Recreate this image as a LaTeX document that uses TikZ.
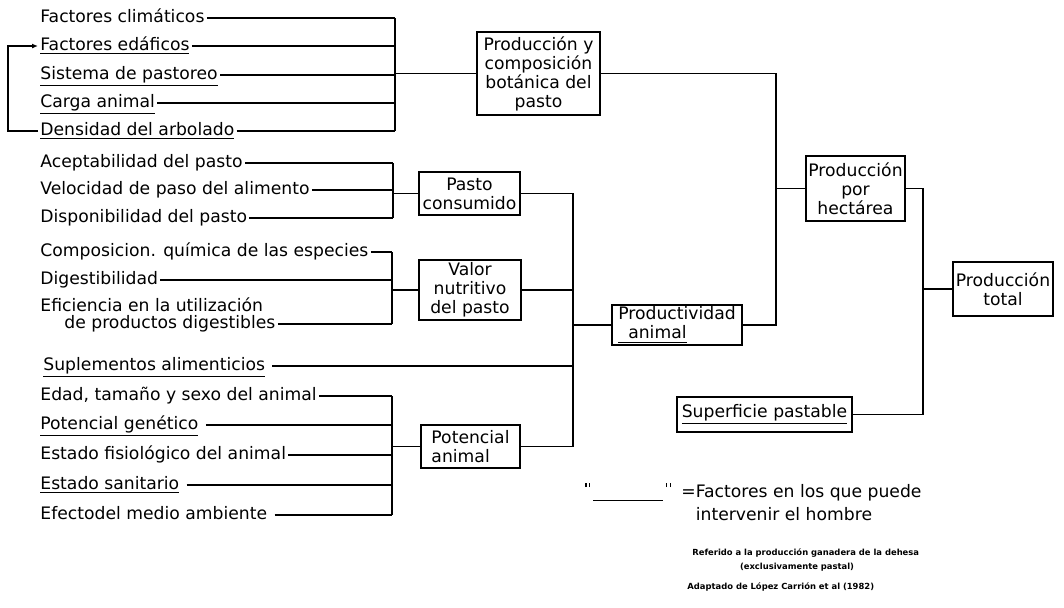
\documentclass[tikz,border=0pt]{standalone}
\usepackage{fontspec}
\setmainfont{DejaVu Sans}
\usetikzlibrary{arrows.meta}
\newcommand{\comillas}{\rule[5pt]{0.6pt}{2.2pt}\hspace{1.2pt}\rule[5pt]{0.6pt}{2.2pt}}
\begin{document}
\begin{tikzpicture}[x=0.5pt,y=-0.5pt,
    every node/.style={font=\fontsize{8.6}{9.5}\selectfont},
    factor/.style={anchor=west,inner sep=1pt,text height=6pt,text depth=2pt},
    caja/.style={rectangle,draw,line width=0.8pt,inner sep=1pt,align=center},
    linea/.style={line width=0.9pt},
    hueco/.style={line width=0.9pt,shorten <=2.5pt},
    nota/.style={font=\fontsize{4.2}{5}\selectfont\bfseries,inner sep=0pt}]
  \useasboundingbox (0,0) rectangle (1064,607);
  \coordinate (brk) at(8,0);
  \coordinate (ba) at(395,0);
  \coordinate (bb) at(393,0);
  \coordinate (bc) at(392,0);
  \coordinate (bm) at(573,0);
  \coordinate (br) at(776,0);
  \coordinate (bt) at(923,0);

  \node[factor] (clim) at(38,18) {Factores climáticos};
  \node[factor] (edaf) at(38,46) {\underline{Factores edáficos}};
  \node[factor] (sist) at(38,75) {\underline{Sistema de pastoreo}};
  \node[factor] (carga) at(38,103) {\underline{Carga animal}};
  \node[factor] (dens) at(38,131) {\underline{Densidad del arbolado}};
  \node[factor] (acep) at(38,163) {Aceptabilidad del pasto};
  \node[factor] (veloc) at(38,190) {Velocidad de paso del alimento};
  \node[factor] (disp) at(38,218) {Disponibilidad del pasto};
  \node[factor] (comp) at(38,252) {Composicion. química de las especies};
  \node[factor] (dig) at(38,280) {Digestibilidad};
  \node[factor] (efic1) at(38,307) {Eficiencia en la utilización};
  \node[factor] (efic2) at(62,324) {de productos digestibles};
  \node[factor] (supl) at(41,366) {\underline{Suplementos alimenticios}};
  \node[factor] (edad) at(38,396) {Edad, tamaño y sexo del animal};
  \node[factor] (pot) at(38,425) {\underline{Potencial genético}};
  \node[factor] (fisio) at(38,455) {Estado fisiológico del animal};
  \node[factor] (sanit) at(38,485) {\underline{Estado sanitario}};
  \node[factor] (efecto) at(38,515) {Efectodel medio ambiente};

  \node[caja,minimum width=61.5pt,minimum height=41.5pt] (prodcomp) at(538.5,73.5) {Producción y\\composición\\botánica del\\pasto};
  \node[caja,minimum width=50.5pt,minimum height=21.5pt] (consumido) at(469.5,193.5) {Pasto\\consumido};
  \node[caja,minimum width=51pt,minimum height=30pt] (valor) at(470,290) {Valor\\nutritivo\\del pasto};
  \node[caja,minimum width=49.5pt,minimum height=21.5pt,align=left] (potencial) at(470.5,446.5) {Potencial\\animal};
  \node[caja,minimum width=65pt,minimum height=20pt,align=left] (productividad) at(677,325) {Productividad\\\underline{\hspace{5pt}animal}};
  \node[caja,minimum width=49.5pt,minimum height=32.5pt] (hectarea) at(855.5,188.5) {Producción\\por\\hectárea};
  \node[caja,minimum width=50pt,minimum height=27pt] (total) at(1003,289) {Producción\\total};
  \node[caja,minimum width=87.5pt,minimum height=17.5pt] (superficie) at(764.5,414.5) {\underline{Superficie pastable}};

  \foreach \n in {clim,edaf,sist,carga,dens}
    \draw[linea] (\n.east) -- (\n.east -| ba);
  \draw[linea] (clim.east -| ba) -- (dens.east -| ba);
  \draw[linea] (ba |- prodcomp.west) -- (prodcomp.west);
  \draw[linea,-{Latex[length=3pt,width=2.5pt]}] (dens.west) -| (brk |- edaf.west) -- (edaf.west);

  \foreach \n in {acep,veloc,disp}
    \draw[linea] (\n.east) -- (\n.east -| bb);
  \draw[linea] (acep.east -| bb) -- (disp.east -| bb);
  \draw[linea] (bb |- consumido.west) -- (consumido.west);

  \foreach \n in {comp,dig,efic2}
    \draw[linea] (\n.east) -- (\n.east -| bc);
  \draw[linea] (comp.east -| bc) -- (efic2.east -| bc);
  \draw[linea] (bc |- valor.west) -- (valor.west);

  \foreach \n in {edad,fisio}
    \draw[linea] (\n.east) -- (\n.east -| bc);
  \foreach \n in {pot,sanit,efecto}
    \draw[hueco] (\n.east) -- (\n.east -| bc);
  \draw[linea] (edad.east -| bc) -- (efecto.east -| bc);
  \draw[linea] (bc |- potencial.west) -- (potencial.west);

  \draw[linea] (consumido.east) -| (bm |- potencial.east) -- (potencial.east);
  \draw[linea] (valor.east) -- (valor.east -| bm);
  \draw[hueco] (supl.east) -- (supl.east -| bm);
  \draw[linea] (bm |- productividad.west) -- (productividad.west);

  \draw[linea] (prodcomp.east) -| (br |- productividad.east) -- (productividad.east);
  \draw[linea] (br |- hectarea.west) -- (hectarea.west);
  \draw[linea] (hectarea.east) -| (bt |- total.west) -- (total.west);
  \draw[linea] (superficie.east) -| (bt |- total.west);

  \node[anchor=west,inner sep=0pt] (marca) at(585,492) {\comillas\hspace{1.5pt}\rule[-2pt]{35pt}{0.7pt}\hspace{1.5pt}\comillas};
  \node[anchor=west,align=left,inner sep=0pt,font=\fontsize{8.6}{11.5}\selectfont] (leyenda) at(681,503) {=Factores en los que puede\\\phantom{=}intervenir el hombre};

  \node[nota,anchor=west] (nota1) at(692,553) {Referido a la producción ganadera de la dehesa};
  \node[nota] (nota2) at(797,567) {(exclusivamente pastal)};
  \node[nota,anchor=west] (nota3) at(687,587) {Adaptado de López Carrión et al (1982)};
\end{tikzpicture}
\end{document}
